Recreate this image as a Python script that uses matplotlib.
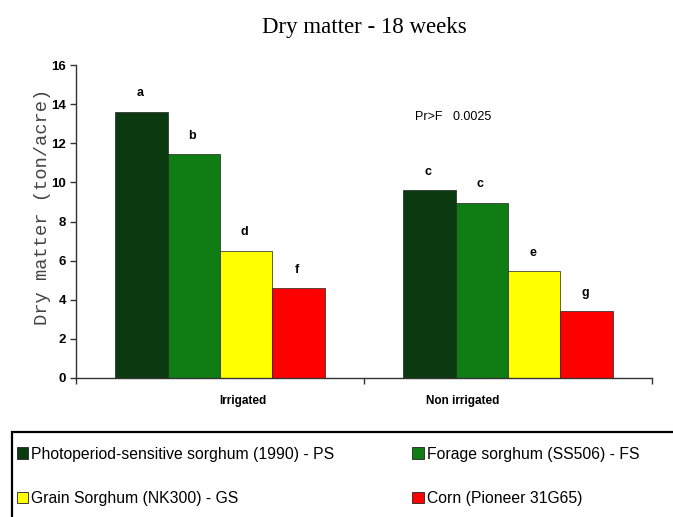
import numpy as np
import matplotlib
matplotlib.use("Agg")
import matplotlib.pyplot as plt
from matplotlib.patches import Rectangle, Patch

# ---------------------------------------------------------------- data
groups = ["Irrigated", "Non irrigated"]
varieties = ["Photoperiod-sensitive sorghum (1990) - PS",
             "Forage sorghum (SS506) - FS",
             "Grain Sorghum (NK300) - GS",
             "Corn (Pioneer 31G65)"]
ps = [13.6, 9.6]
fs = [11.45, 8.95]
gs = [6.5, 5.45]
corn = [4.6, 3.4]
letters_ps = ["a", "c"]
letters_fs = ["b", "c"]
letters_gs = ["d", "e"]
letters_corn = ["f", "g"]
yticks = [0, 2, 4, 6, 8, 10, 12, 14, 16]
pval_text = "Pr>F   0.0025"

# ---------------------------------------------------------------- style
COLORS = ["#0b3a10", "#0f7d14", "#ffff00", "#ff0000"]
SANS = "Liberation Sans"

fig = plt.figure(figsize=(6.73, 5.17), dpi=100)
fig.patch.set_facecolor("white")
ax = fig.add_axes([76 / 673, 1 - 378 / 517, 576 / 673, 313 / 517])

x = np.arange(len(groups))
w = 0.1815
series = [ps, fs, gs, corn]
letters = [letters_ps, letters_fs, letters_gs, letters_corn]
for i, (vals, lab, col, lets) in enumerate(zip(series, varieties, COLORS, letters)):
    xs = x + (i - 1.5) * w
    ax.bar(xs, vals, width=w, color=col, edgecolor="#222222", linewidth=0.5,
           label=lab, zorder=2)
    for xx, v, t in zip(xs, vals, lets):
        ax.annotate(t, (xx, v), xytext=(-1, 9), textcoords="offset points",
                    ha="center", va="bottom", fontsize=9, fontweight="bold",
                    family=SANS, color="black")

ax.set_xlim(-0.5, 1.5)
ax.set_ylim(0, 16)
ax.set_yticks(yticks)
ax.set_yticklabels([str(t) for t in yticks], fontsize=9.5, fontweight="bold",
                   family=SANS)
ax.set_xticks([-0.5, 0.5, 1.5])
ax.set_xticklabels([])
for s in ("top", "right"):
    ax.spines[s].set_visible(False)
for s in ("left", "bottom"):
    ax.spines[s].set_color("#333333")
    ax.spines[s].set_linewidth(1.0)
ax.tick_params(axis="both", direction="out", length=4, width=1.0,
               color="#333333", pad=3)

# category labels (sit slightly off-centre in the original)
cat_offsets = [0.08, -0.156]
for xi, g, off in zip(x, groups, cat_offsets):
    ax.text(xi + off, -0.075, g, transform=ax.get_xaxis_transform(),
            ha="center", va="center", fontsize=8.5, fontweight="bold",
            family=SANS)

ax.set_ylabel("Dry matter (ton/acre)", family="Liberation Mono", fontsize=13.5,
              color="#444444", va="center")
ax.yaxis.set_label_coords(-0.059, 0.546)

ax.text(0.677, 13.35, pval_text, ha="left", va="center", fontsize=9,
        family=SANS)

fig.text(0.542, 0.946, "Dry matter - 18 weeks", ha="center", va="center",
         family="Liberation Serif", fontsize=16.5)

# legend box, clipped by the figure edge like the original
fig.patches.append(Rectangle((12 / 673, -0.1), 1.1, 1 - 432 / 517 + 0.1,
                             transform=fig.transFigure, facecolor="white",
                             edgecolor="black", linewidth=1.6, zorder=-1))
handles = [Patch(facecolor=c, edgecolor="#222222", linewidth=0.6) for c in COLORS]
order = [0, 2, 1, 3]
fig.legend([handles[i] for i in order], [varieties[i] for i in order],
           ncol=2, loc="upper left", bbox_to_anchor=(12 / 673, 1 - 442 / 517),
           frameon=False, prop={"family": SANS, "size": 11.3},
           handlelength=0.75, handleheight=0.75, handletextpad=0.15,
           columnspacing=5.0, labelspacing=1.85, borderaxespad=0, borderpad=0.3)

fig.savefig("out.png", dpi=100, facecolor="white")
